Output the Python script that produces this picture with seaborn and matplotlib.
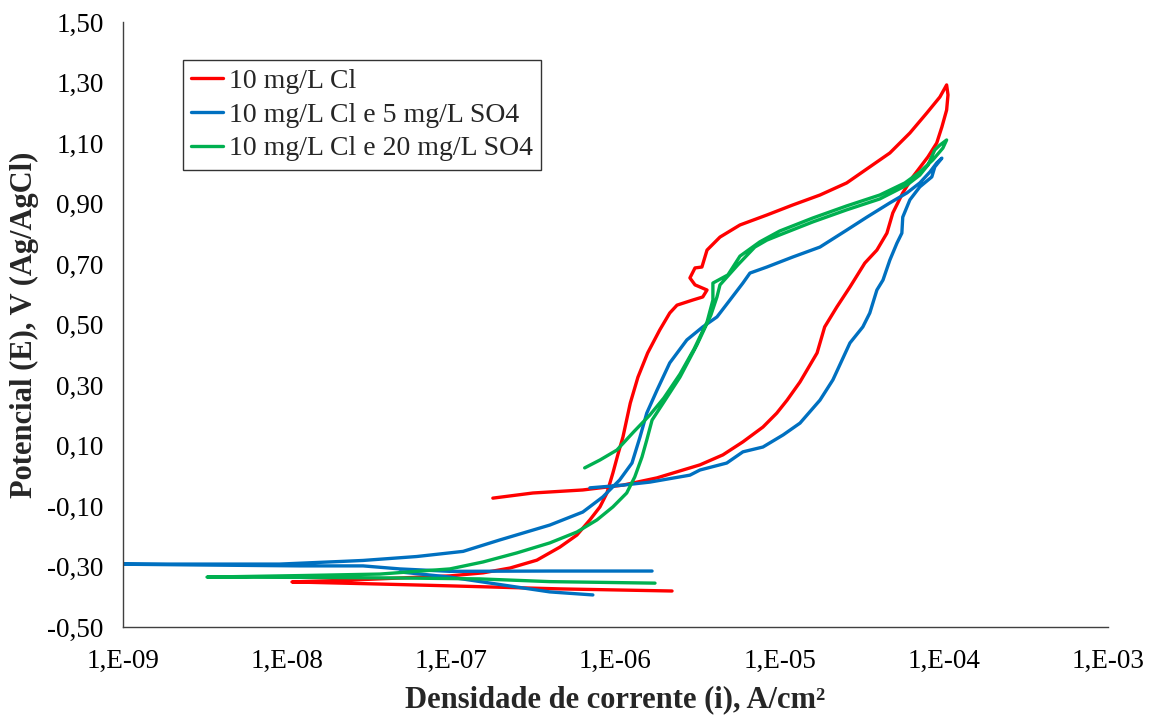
import numpy as np
import matplotlib as mpl
from matplotlib import pyplot as plt
import seaborn as sns
import pandas as pd

# curva 10 mg/L Cl  (i em A/cm2, E em V vs Ag/AgCl)
cl_i = [2.21e-6, 4.58e-7, 9.8e-8, 3.67e-8, 1.07e-8, 2.41e-8, 9.8e-8, 1.56e-7, 2.28e-7, 3.32e-7,
        4.58e-7, 5.82e-7, 6.98e-7, 8.04e-7, 8.87e-7, 9.64e-7, 1.04e-6, 1.11e-6, 1.23e-6, 1.37e-6,
        1.57e-6, 1.86e-6, 2.14e-6, 2.37e-6, 2.96e-6, 3.40e-6, 3.61e-6, 3.05e-6, 2.84e-6, 3.05e-6,
        3.36e-6, 3.61e-6, 4.33e-6, 5.73e-6, 8.36e-6, 1.20e-5, 1.76e-5, 2.56e-5, 3.54e-5, 4.69e-5,
        6.21e-5, 7.87e-5, 9.46e-5, 1.04e-4, 1.06e-4, 1.04e-4, 9.73e-5, 9.05e-5, 8.0e-5, 6.47e-5,
        5.62e-5, 4.89e-5, 4.50e-5, 3.91e-5, 3.30e-5, 2.68e-5, 2.23e-5, 1.88e-5, 1.69e-5, 1.33e-5,
        1.11e-5, 9.6e-6, 7.91e-6, 5.97e-6, 4.51e-6, 3.27e-6, 1.79e-6, 1.11e-6, 6.32e-7, 3.14e-7,
        1.79e-7]
cl_E = [-0.381, -0.374, -0.364, -0.358, -0.351, -0.345, -0.331, -0.321, -0.305, -0.279,
        -0.236, -0.196, -0.146, -0.103, -0.057, 0.009, 0.075, 0.128, 0.240, 0.326,
        0.406, 0.482, 0.538, 0.564, 0.581, 0.591, 0.614, 0.631, 0.654, 0.687,
        0.690, 0.746, 0.789, 0.829, 0.862, 0.895, 0.928, 0.968, 1.021, 1.067,
        1.133, 1.199, 1.252, 1.292, 1.259, 1.209, 1.153, 1.100, 1.054, 0.988,
        0.935, 0.869, 0.802, 0.746, 0.703, 0.624, 0.558, 0.492, 0.406, 0.310,
        0.250, 0.207, 0.161, 0.112, 0.069, 0.036, -0.007, -0.031, -0.047, -0.057,
        -0.074]

# curva 10 mg/L Cl e 5 mg/L SO4
so5_i = [1.67e-6, 3.98e-7, 9.8e-8, 4.86e-8, 2.90e-8, 1.20e-8, 2.94e-9, 8.3e-10, 2.94e-9, 9.0e-9,
         2.19e-8, 2.90e-8, 6.16e-8, 1.18e-7, 1.98e-7, 3.98e-7, 6.32e-7, 8.37e-7, 1.06e-6, 1.26e-6,
         1.41e-6, 1.55e-6, 1.79e-6, 2.14e-6, 2.72e-6, 3.40e-6, 4.15e-6, 4.98e-6, 5.97e-6, 6.59e-6,
         8.36e-6, 1.20e-5, 1.76e-5, 2.56e-5, 3.40e-5, 4.69e-5, 5.96e-5, 7.14e-5, 8.22e-5, 9.05e-5,
         9.73e-5, 8.81e-5, 8.45e-5, 7.14e-5, 6.21e-5, 5.62e-5, 5.55e-5, 5.18e-5, 4.69e-5, 4.26e-5,
         3.91e-5, 3.54e-5, 3.21e-5, 2.68e-5, 2.11e-5, 1.76e-5, 1.33e-5, 1.05e-5, 7.91e-6, 5.97e-6,
         4.76e-6, 3.27e-6, 2.84e-6, 1.62e-6, 1.11e-6, 6.98e-7]
so5_E = [-0.315, -0.315, -0.316, -0.308, -0.298, -0.298, -0.295, -0.292, -0.292, -0.292,
         -0.283, -0.280, -0.267, -0.250, -0.212, -0.163, -0.120, -0.070, -0.014, 0.042,
         0.128, 0.207, 0.283, 0.373, 0.449, 0.492, 0.525, 0.581, 0.637, 0.670,
         0.690, 0.723, 0.756, 0.812, 0.855, 0.902, 0.935, 0.968, 1.004, 1.034,
         1.050, 1.021, 0.988, 0.955, 0.912, 0.855, 0.802, 0.769, 0.713, 0.647,
         0.614, 0.538, 0.492, 0.439, 0.317, 0.250, 0.174, 0.135, 0.095, 0.079,
         0.042, 0.019, 0.002, -0.021, -0.031, -0.040]
# trecho catodico solto
so5b_i = [7.28e-7, 3.98e-7, 2.51e-7, 9.8e-8, 4.86e-8]
so5b_E = [-0.394, -0.384, -0.368, -0.335, -0.318]

# curva 10 mg/L Cl e 20 mg/L SO4
so20_i = [1.74e-6, 3.98e-7, 1.49e-7, 4.86e-8, 1.20e-8, 3.25e-9, 1.20e-8, 3.67e-8, 9.8e-8, 1.56e-7,
          2.51e-7, 3.98e-7, 5.82e-7, 7.71e-7, 9.64e-7, 1.17e-6, 1.31e-6, 1.45e-6, 1.55e-6, 1.67e-6,
          1.95e-6, 2.47e-6, 3.13e-6, 3.81e-6, 4.15e-6, 4.33e-6, 5.56e-6, 7.06e-6, 8.36e-6, 1.00e-5,
          1.59e-5, 2.56e-5, 4.07e-5, 5.96e-5, 7.14e-5, 8.0e-5, 8.81e-5, 9.46e-5, 1.04e-4, 9.86e-5,
          8.57e-5, 7.14e-5, 5.79e-5, 4.07e-5, 2.56e-5, 1.59e-5, 1.00e-5, 7.56e-6, 5.73e-6, 4.84e-6,
          3.92e-6, 3.92e-6, 3.61e-6, 3.01e-6, 2.47e-6, 1.97e-6, 1.62e-6, 1.29e-6, 1.02e-6, 8.04e-7,
          6.49e-7]
so20_E = [-0.355, -0.350, -0.341, -0.338, -0.336, -0.335, -0.330, -0.325, -0.308, -0.285,
          -0.255, -0.222, -0.186, -0.146, -0.103, -0.057, -0.004, 0.062, 0.118, 0.184,
          0.240, 0.326, 0.432, 0.531, 0.591, 0.631, 0.697, 0.756, 0.779, 0.796,
          0.839, 0.879, 0.915, 0.961, 0.994, 1.027, 1.077, 1.093, 1.110, 1.083,
          1.044, 1.004, 0.968, 0.928, 0.892, 0.852, 0.809, 0.773, 0.726, 0.664,
          0.637, 0.581, 0.508, 0.419, 0.336, 0.257, 0.201, 0.145, 0.085, 0.052,
          0.026]

labels = ['10 mg/L Cl', '10 mg/L Cl e 5 mg/L SO4', '10 mg/L Cl e 20 mg/L SO4']
colors = ['#FF0000', '#0070C0', '#00B050']
x_ticks = [1e-9, 1e-8, 1e-7, 1e-6, 1e-5, 1e-4, 1e-3]
y_ticks = [-0.5, -0.3, -0.1, 0.1, 0.3, 0.5, 0.7, 0.9, 1.1, 1.3, 1.5]


def seg(name, part, i, E):
    return pd.DataFrame({'serie': name, 'seg': f'{name}-{part}', 'i': i, 'E': E})


df = pd.concat([
    seg(labels[0], 0, cl_i, cl_E),
    seg(labels[1], 0, so5_i, so5_E),
    seg(labels[1], 1, so5b_i, so5b_E),
    seg(labels[2], 0, so20_i, so20_E),
], ignore_index=True)

sns.set_theme(style='white')
plt.rcParams['font.family'] = ['Liberation Serif', 'DejaVu Serif']

fig = plt.figure(figsize=(11.53, 7.16), dpi=100)
ax = fig.add_axes([123 / 1153, 89 / 716, 985 / 1153, 605 / 716])

sns.lineplot(data=df, x='i', y='E', hue='serie', hue_order=labels, palette=colors,
             units='seg', estimator=None, sort=False, lw=2.4, ax=ax, legend=False)

ax.set_xscale('log')
ax.set_xlim(1e-9, 1e-3)
ax.set_ylim(-0.5, 1.5)
ax.set_yticks(y_ticks)
ax.set_yticklabels([f"{v:.2f}".replace('.', ',') for v in y_ticks])
minor = [m * d for d in x_ticks[:-1] for m in range(2, 10)]
ax.xaxis.set_major_locator(mpl.ticker.FixedLocator(x_ticks))
ax.xaxis.set_minor_locator(mpl.ticker.FixedLocator(minor))
ax.xaxis.set_minor_formatter(mpl.ticker.NullFormatter())
ax.set_xticklabels([f"1,E{int(round(np.log10(v))):03d}" for v in x_ticks])

for s in ['top', 'right']:
    ax.spines[s].set_visible(False)
for s in ['left', 'bottom']:
    ax.spines[s].set_color('#404040')
    ax.spines[s].set_linewidth(1.0)
ax.tick_params(axis='both', which='major', direction='out', length=6, width=1,
               color='#404040', labelsize=19.5, labelcolor='black', pad=8)
ax.tick_params(axis='x', which='minor', direction='out', length=4, width=1, color='#404040')
ax.tick_params(axis='x', which='major', pad=10)

ax.set_xlabel('Densidade de corrente (i), A/cm²', fontsize=22, fontweight='bold', labelpad=8)
ax.set_ylabel('Potencial (E), V (Ag/AgCl)', fontsize=22, fontweight='bold', labelpad=6)

handles = [mpl.lines.Line2D([], [], color=c, lw=2.4) for c in colors]
leg = ax.legend(handles, labels, loc='upper left', bbox_to_anchor=(0.061, 0.937),
                borderaxespad=0, fontsize=20, frameon=True, fancybox=False,
                edgecolor='black', handlelength=1.15, handletextpad=0.2,
                labelspacing=0.3, borderpad=0.3)
leg.get_frame().set_linewidth(1.0)

fig.savefig('out.png', dpi=100, facecolor='white')
